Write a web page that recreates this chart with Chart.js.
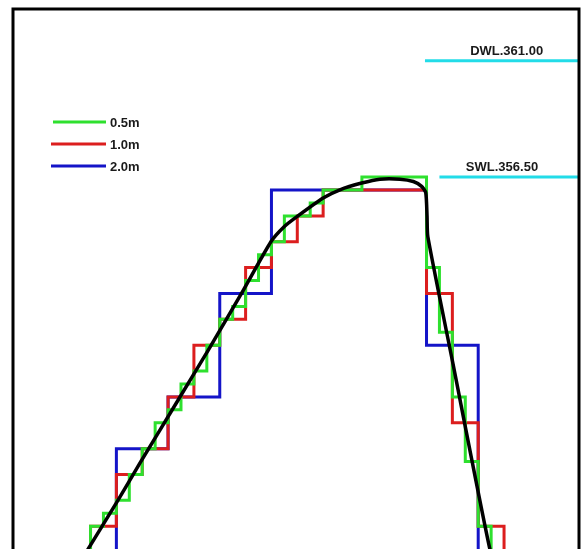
<!DOCTYPE html>
<html>
<head>
<meta charset="utf-8">
<script src="https://cdn.jsdelivr.net/npm/chart.js@4.4.1/dist/chart.umd.min.js"></script>
<style>
  html, body { margin: 0; padding: 0; background: #fff; overflow: hidden; }
  #wrap { width: 584px; height: 549px; overflow: hidden; }
  canvas { display: block; }
</style>
</head>
<body>
<div id="wrap"><canvas id="c" width="584" height="570"></canvas></div>
<script>
// ---- data (x = chainage in m, y = elevation in m) ----
const seriesLabels = ['0.5m', '1.0m', '2.0m'];
const levelLabels = ['DWL.361.00', 'SWL.356.50'];

const profileX = [2.54, 2.91, 4.00, 4.91, 6.39, 7.55, 8.92, 9.98, 10.50, 11.00, 12.00, 12.65, 13.49, 14.20, 14.97, 15.49, 15.81, 15.97, 16.02, 16.05, 17.00, 18.45, 18.73];
const profileY = [341.5, 342.12, 343.90, 345.44, 347.88, 349.80, 352.14, 354.00, 354.59, 354.98, 355.69, 356.01, 356.27, 356.42, 356.42, 356.33, 356.14, 355.90, 355.00, 354.20, 349.40, 342.12, 341.5];

const step05X = [3, 3, 3.5, 3.5, 4, 4, 4.5, 4.5, 5, 5, 5.5, 5.5, 6, 6, 6.5, 6.5, 7, 7, 7.5, 7.5, 8, 8, 8.5, 8.5, 9, 9, 9.5, 9.5, 10, 10, 10.5, 10.5, 11.5, 11.5, 12, 12, 13.5, 13.5, 16, 16, 16.5, 16.5, 17, 17, 17.5, 17.5, 18, 18, 18.5, 18.5];
const step05Y = [341.5, 343, 343, 343.5, 343.5, 344, 344, 345, 345, 346, 346, 347, 347, 347.5, 347.5, 348.5, 348.5, 349, 349, 350, 350, 351, 351, 351.5, 351.5, 352.5, 352.5, 353.5, 353.5, 354, 354, 355, 355, 355.5, 355.5, 356, 356, 356.5, 356.5, 353, 353, 350.5, 350.5, 348, 348, 345.5, 345.5, 343, 343, 341.5];

const step10X = [3, 3, 4, 4, 5, 5, 6, 6, 7, 7, 8, 8, 9, 9, 10, 10, 11, 11, 12, 12, 16, 16, 17, 17, 18, 18, 19, 19];
const step10Y = [341.5, 343, 343, 345, 345, 346, 346, 348, 348, 350, 350, 351, 351, 353, 353, 354, 354, 355, 355, 356, 356, 352, 352, 347, 347, 343, 343, 341.5];

const step20X = [4, 4, 6, 6, 8, 8, 10, 10, 16, 16, 18, 18];
const step20Y = [341.5, 346, 346, 348, 348, 352, 352, 356, 356, 350, 350, 341.5];

const dwlX = [15.94, 21.9];
const dwlY = [361.0, 361.0];
const swlX = [16.5, 21.9];
const swlY = [356.5, 356.5];

// ---- build ----
const zip = (xs, ys) => xs.map((x, i) => ({ x: x, y: ys[i] }));
const GREEN = '#2ee02e', RED = '#dc1e1e', BLUE = '#1414c8', CYAN = '#22dce8';

const lineDs = (label, xs, ys, color, w, extra) => Object.assign({
  label: label, data: zip(xs, ys), showLine: true, borderColor: color,
  backgroundColor: color, borderWidth: w, pointRadius: 0, fill: false,
  tension: 0, borderJoinStyle: 'miter', borderCapStyle: 'butt'
}, extra || {});

const framePlugin = {
  id: 'frame',
  afterDatasetsDraw(chart) {
    const a = chart.chartArea, ctx = chart.ctx;
    const xs = chart.scales.x, ys = chart.scales.y;
    ctx.save();
    ctx.strokeStyle = '#000';
    ctx.lineWidth = 3;
    ctx.strokeRect(a.left, a.top, a.right - a.left, a.bottom - a.top);
    ctx.fillStyle = '#1a1a1a';
    ctx.font = 'bold 13px "Liberation Sans", Arial, sans-serif';
    ctx.textAlign = 'center';
    ctx.textBaseline = 'bottom';
    ctx.fillText(levelLabels[0], xs.getPixelForValue(19.1), ys.getPixelForValue(dwlY[0]) - 3);
    ctx.fillText(levelLabels[1], xs.getPixelForValue(18.92), ys.getPixelForValue(swlY[0]) - 3);
    const colors = [GREEN, RED, BLUE];
    ctx.textAlign = 'left';
    ctx.textBaseline = 'middle';
    for (let i = 0; i < seriesLabels.length; i++) {
      const y = 122 + i * 22;
      ctx.strokeStyle = colors[i];
      ctx.lineWidth = 3;
      ctx.beginPath();
      ctx.moveTo(i === 0 ? 53 : 51, y);
      ctx.lineTo(106, y);
      ctx.stroke();
      ctx.fillText(seriesLabels[i], 110, y + 1);
    }
    ctx.restore();
  }
};

new Chart(document.getElementById('c'), {
  type: 'scatter',
  data: {
    datasets: [
      lineDs('profile', profileX, profileY, '#000', 3.5, { tension: 0.2 }),
      lineDs(seriesLabels[0], step05X, step05Y, GREEN, 3),
      lineDs(seriesLabels[1], step10X, step10Y, RED, 3),
      lineDs(seriesLabels[2], step20X, step20Y, BLUE, 3),
      lineDs(levelLabels[0], dwlX, dwlY, CYAN, 3),
      lineDs(levelLabels[1], swlX, swlY, CYAN, 3)
    ]
  },
  options: {
    responsive: false,
    devicePixelRatio: 1,
    animation: false,
    layout: { padding: { left: 13, right: 5, top: 9, bottom: 5 } },
    plugins: { legend: { display: false }, tooltip: { enabled: false } },
    scales: {
      x: { type: 'linear', min: 0, max: 21.9, display: false },
      y: { type: 'linear', min: 341.5, max: 363, display: false }
    }
  },
  plugins: [framePlugin]
});
</script>
</body>
</html>
